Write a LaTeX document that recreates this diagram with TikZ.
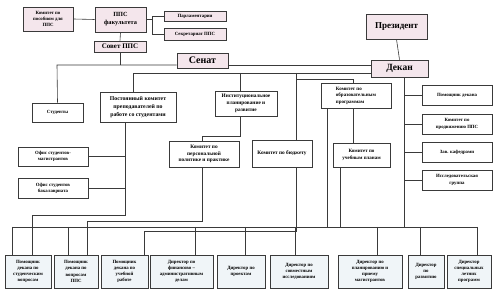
\documentclass[tikz,border=0pt]{standalone}
\usepackage{fontspec}
\setmainfont{Liberation Serif}
\usetikzlibrary{backgrounds,shadows}
\definecolor{pinkf}{HTML}{F4E6EC}
\definecolor{bluef}{HTML}{F0F5F8}
\definecolor{edgec}{HTML}{3A3A3A}
\newcommand\fs[2]{\bfseries\fontsize{#1}{#2}\selectfont}
\tikzset{
  box/.style={draw=edgec, line width=0.9pt, fill=white, inner sep=1pt, align=center,
    font=\fs{4.8}{6.2}, drop shadow={shadow xshift=0.7pt,shadow yshift=-0.7pt,fill=black!35,opacity=1}},
  pbox/.style={box, fill=pinkf},
  bbox/.style={box, fill=bluef},
  conn/.style={draw=edgec, line width=0.6pt},
}
\begin{document}
\begin{tikzpicture}[x=1pt,y=-1pt]
\useasboundingbox (0,0) rectangle (500,296);
% top pink boxes
\node[pbox, minimum width=50pt, minimum height=24pt] (kpos) at (48,19) {Комитет по\\пособиям для\\ППС};
\node[pbox, minimum width=51pt, minimum height=25pt, font=\fs{6.3}{8}] (ppsf) at (120.5,19.5) {ППС\\факультета};
\node[pbox, minimum width=62pt, minimum height=10pt] (parl) at (195,16) {Парламентарии};
\node[pbox, minimum width=62pt, minimum height=12pt] (secr) at (195,34) {Секретариат ППС};
\node[pbox, minimum width=52pt, minimum height=11pt, font=\fs{7}{8}] (sovet) at (120,46.5) {Совет ППС};
\node[pbox, minimum width=51pt, minimum height=15pt, font=\fs{10}{11}] (senat) at (202.5,60.5) {Сенат};
\node[pbox, minimum width=61pt, minimum height=25pt, font=\fs{9}{10}] (prez) at (396.5,26.5) {Президент};
\node[pbox, minimum width=57pt, minimum height=17pt, font=\fs{9.5}{10}] (dekan) at (399.5,68.5) {Декан};
% middle boxes
\node[box, minimum width=51pt, minimum height=19pt] (stud) at (57.5,112.5) {Студенты};
\node[box, minimum width=76pt, minimum height=30pt, font=\fs{5.8}{7.8}] (postk) at (138,107) {Постоянный комитет\\преподавателей по\\работе со студентами};
\node[box, minimum width=70pt, minimum height=19pt] (magistr) at (53,156.5) {Офис студентов-\\магистрантов};
\node[box, minimum width=70pt, minimum height=20pt] (bakal) at (53,188) {Офис студентов\\бакалавриата};
\node[box, minimum width=62pt, minimum height=25pt, font=\fs{5.3}{6.8}] (inst) at (246,103.5) {Институциональное\\планирование и\\развитие};
\node[box, minimum width=70pt, minimum height=26pt, font=\fs{5.3}{6.8}] (kadr) at (204,154) {Комитет по\\персональной\\политике и практике};
\node[box, minimum width=60pt, minimum height=27pt, font=\fs{5.3}{6.8}] (budget) at (282,153.5) {Комитет по бюджету};
\node[box, minimum width=70pt, minimum height=25pt, align=left, font=\fs{5}{6.5}] (obr) at (356,95.5) {Комитет по\\образовательным\\программам};
\node[box, minimum width=57pt, minimum height=24pt, font=\fs{5}{6.5}] (ucheb) at (361.5,155) {Комитет по\\учебным планам};
\node[box, minimum width=70pt, minimum height=20pt] (pomd) at (457,95) {Помощник декана};
\node[box, minimum width=70pt, minimum height=20pt] (prodv) at (457,124) {Комитет по\\продвижению ППС};
\node[box, minimum width=70pt, minimum height=20pt] (zav) at (457,152) {Зав. кафедрами};
\node[box, minimum width=70pt, minimum height=20pt] (issl) at (457,180) {Исследовательская\\группа};
% bottom boxes
\node[bbox, minimum width=46pt, minimum height=33pt] (b1) at (28,271.5) {Помощник\\декана по\\студенческим\\вопросам};
\node[bbox, minimum width=44pt, minimum height=33pt] (b2) at (76,271.5) {Помощник\\декана по\\вопросам\\ППС};
\node[bbox, minimum width=47pt, minimum height=33pt] (b3) at (124.5,271.5) {Помощник\\декана по\\учебной\\работе};
\node[bbox, minimum width=63pt, minimum height=33pt] (b4) at (181.5,271.5) {Директор по\\финансово –\\административным\\делам};
\node[bbox, minimum width=48pt, minimum height=33pt] (b5) at (241,271.5) {Директор по\\проектам};
\node[bbox, minimum width=58pt, minimum height=33pt] (b6) at (299,271.5) {Директор по\\совместным\\исследованиям};
\node[bbox, minimum width=64pt, minimum height=33pt] (b7) at (370,271.5) {Директор по\\планированию и\\приему\\магистрантов};
\node[bbox, minimum width=36pt, minimum height=33pt] (b8) at (426,271.5) {Директор\\по\\развитию};
\node[bbox, minimum width=44pt, minimum height=33pt] (b9) at (469,271.5) {Директор\\специальных\\летних\\программ};
% junction coordinates
\coordinate (jp) at (152,19.5);
\coordinate (L1) at (57,65);
\coordinate (L2) at (133,73);
\coordinate (t1) at (240,73);
\coordinate (t2) at (296,79);
\coordinate (t3) at (296,73);
\coordinate (k353) at (353,79);
\coordinate (x327) at (327,227);
\coordinate (x340) at (340,227);
\coordinate (x404) at (404,227);
\coordinate (pk) at (125,215);
\coordinate (pk2) at (32,215);
\coordinate (ki) at (240,136);
\coordinate (ki2) at (202,136);
\coordinate (kd) at (202,221);
\coordinate (kd2) at (87,221);
\coordinate (L5) at (144,231);
\coordinate (L5b) at (296,231);
\coordinate (busL) at (12,227);
\coordinate (busR) at (477,227);
\begin{scope}[on background layer]
\fill[white] (0,0) rectangle (500,296);
\draw[conn] (kpos.east) -- (ppsf.west);
\draw[conn] (ppsf.east) -- (jp);
\draw[conn] (parl.west) -| (jp);
\draw[conn] (secr.west) -| (jp);
\draw[conn] (ppsf.south) -- (sovet.north);
\draw[conn] (sovet.south) -- (sovet.south |- L1);
\draw[conn] (stud.north) -- (L1) -- (senat.west |- L1);
\draw[conn] (senat.east |- L1) -- (dekan.west |- L1);
\draw[conn] (prez.south) -- (dekan.north);
\draw[conn] (L2 |- postk.north) -- (L2) -- (dekan.west |- L2);
\draw[conn] (t1) -- (t1 |- inst.north);
\draw[conn] (t3) -- (L5b) -- (L5) -- (L5 |- b3.north);
\draw[conn] (t2) -- (k353) -- (k353 |- obr.north);
\draw[conn] (k353 |- obr.south) -- (k353 |- ucheb.north);
\draw[conn] (x327 |- obr.south) -- (x327);
\draw[conn] (x340 |- ucheb.south) -- (x340);
\draw[conn] (x404 |- dekan.south) -- (x404);
\draw[conn] (x404 |- pomd.west) -- (pomd.west);
\draw[conn] (x404 |- prodv.west) -- (prodv.west);
\draw[conn] (x404 |- zav.west) -- (zav.west);
\draw[conn] (x404 |- issl.west) -- (issl.west);
\draw[conn] (pk |- postk.south) -- (pk) -- (pk2) -- (pk2 |- b1.north);
\draw[conn] (magistr.east) -- (magistr.east -| pk);
\draw[conn] (bakal.east) -- (bakal.east -| pk);
\draw[conn] (ki |- inst.south) -- (ki) -- (ki2) -- (ki2 |- kadr.north);
\draw[conn] (kd |- kadr.south) -- (kd) -- (kd2) -- (kd2 |- b3.north);
\draw[conn] (busL) -- (busR);
\draw[conn] (busL) -- (busL |- b1.north);
\foreach \xx/\bb in {68/b2,195/b4,245/b5,295/b6,377/b7,420/b8,477/b9}
  \draw[conn] (\xx,227) -- (\xx,227 |- \bb.north);
\end{scope}
\end{tikzpicture}
\end{document}
